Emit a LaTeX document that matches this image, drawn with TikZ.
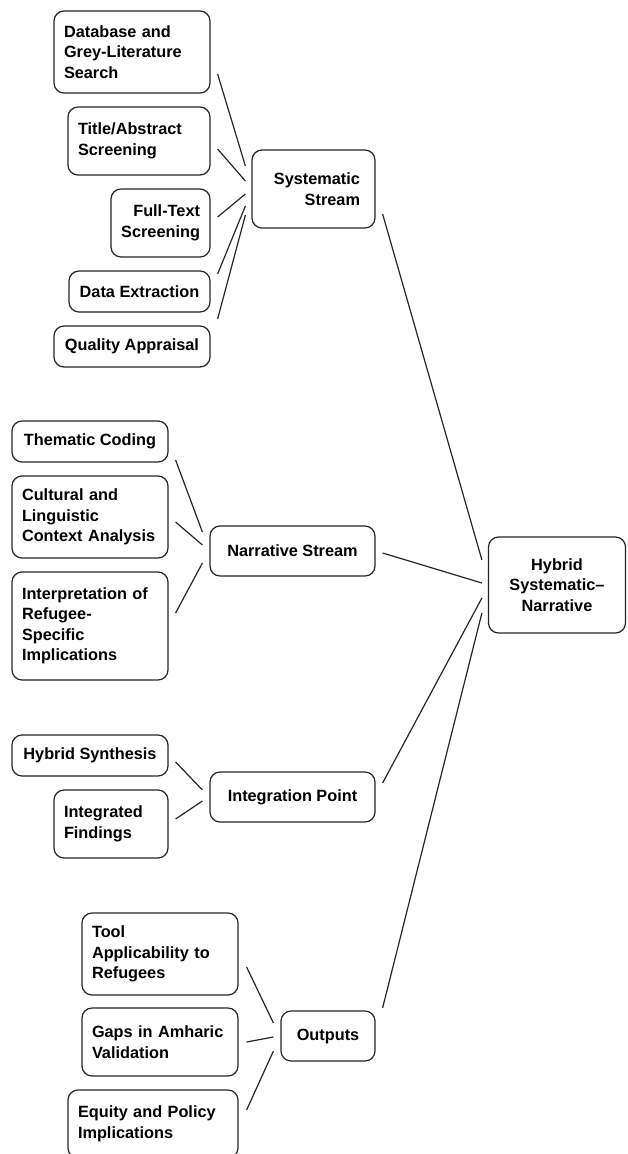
\documentclass[tikz,border=0pt]{standalone}
\usepackage{fontspec}
\setmainfont{Liberation Sans}
\begin{document}
\begin{tikzpicture}[x=1pt,y=-1pt,
  every node/.style={font=\fontsize{16.3}{20.5}\selectfont\bfseries},
  box/.style={draw=black!85, line width=1.2pt, rounded corners=10pt, inner xsep=10pt, inner ysep=0pt},
  lbox/.style={box, align=left},
  rbox/.style={box, align=right},
  cbox/.style={box, align=center},
  link/.style={draw=black!85, line width=1.2pt}]
\useasboundingbox[fill=white] (0,0) rectangle (627,1154);
% Systematic branch
\node[lbox, minimum width=156pt, minimum height=82pt, text width=136pt] (db) at (132,52) {Database and\\Grey-Literature\\Search};
\node[lbox, minimum width=142pt, minimum height=68pt, text width=122pt] (ta) at (139,141) {Title/Abstract\\Screening};
\node[rbox, minimum width=99pt, minimum height=68pt, text width=79pt] (ft) at (160.5,223) {Full-Text\\Screening};
\node[cbox, minimum width=141pt, minimum height=41pt] (de) at (139.5,291.5) {Data Extraction};
\node[cbox, minimum width=156pt, minimum height=41pt] (qa) at (132,346.5) {Quality Appraisal};
\node[rbox, inner xsep=15pt, minimum width=123pt, minimum height=78pt, text width=93pt] (sys) at (313.5,189) {Systematic\\Stream};
% Narrative branch
\node[cbox, minimum width=156pt, minimum height=41pt] (tc) at (90,441.5) {Thematic Coding};
\node[lbox, minimum width=156pt, minimum height=82pt, text width=136pt] (cl) at (90,517) {Cultural and\\Linguistic\\Context Analysis};
\node[lbox, minimum width=156pt, minimum height=108pt, text width=136pt] (ir) at (90,626) {Interpretation of\\Refugee-\\Specific\\Implications};
\node[cbox, minimum width=165pt, minimum height=50pt] (ns) at (292.5,551) {Narrative Stream};
% Integration branch
\node[cbox, minimum width=156pt, minimum height=41pt] (hs) at (90,755.5) {Hybrid Synthesis};
\node[lbox, minimum width=114pt, minimum height=68pt, text width=94pt] (inf) at (111,824) {Integrated\\Findings};
\node[cbox, minimum width=165pt, minimum height=50pt] (ip) at (292.5,797) {Integration Point};
% Outputs branch
\node[lbox, minimum width=156pt, minimum height=82pt, text width=136pt] (tool) at (160,954) {Tool\\Applicability to\\Refugees};
\node[lbox, minimum width=156pt, minimum height=68pt, text width=136pt] (gaps) at (160,1042) {Gaps in Amharic\\Validation};
\node[lbox, minimum width=170pt, minimum height=68pt, text width=150pt] (eq) at (153,1124) {Equity and Policy\\Implications};
\node[cbox, minimum width=94pt, minimum height=50pt] (out) at (328,1036) {Outputs};
% Root
\node[cbox, minimum width=137pt, minimum height=96pt] (hy) at (557,585) {Hybrid\\Systematic–\\Narrative};
% Connectors
\draw[link] ([shift={(7,22)}]db.east) -- ([shift={(-6,-23)}]sys.west);
\draw[link] ([shift={(7,8)}]ta.east) -- ([shift={(-6,-8)}]sys.west);
\draw[link] ([shift={(7,-6)}]ft.east) -- ([shift={(-6,5)}]sys.west);
\draw[link] ([shift={(7,-17.5)}]de.east) -- ([shift={(-6,17)}]sys.west);
\draw[link] ([shift={(7,-27.5)}]qa.east) -- ([shift={(-6,26)}]sys.west);
\draw[link] ([shift={(7,25)}]sys.east) -- ([shift={(-6,-25)}]hy.west);
\draw[link] ([shift={(7,18.5)}]tc.east) -- ([shift={(-7,-19)}]ns.west);
\draw[link] ([shift={(7,5)}]cl.east) -- ([shift={(-7,-6)}]ns.west);
\draw[link] ([shift={(7,-13)}]ir.east) -- ([shift={(-7,12)}]ns.west);
\draw[link] ([shift={(7,2)}]ns.east) -- ([shift={(-6,-2)}]hy.west);
\draw[link] ([shift={(7,6.5)}]hs.east) -- ([shift={(-7,-7)}]ip.west);
\draw[link] ([shift={(7,-5)}]inf.east) -- ([shift={(-7,4)}]ip.west);
\draw[link] ([shift={(7,-14)}]ip.east) -- ([shift={(-6,13)}]hy.west);
\draw[link] ([shift={(8,13)}]tool.east) -- ([shift={(-7,-13)}]out.west);
\draw[link] ([shift={(8,0)}]gaps.east) -- ([shift={(-7,1)}]out.west);
\draw[link] ([shift={(8,-14)}]eq.east) -- ([shift={(-7,15)}]out.west);
\draw[link] ([shift={(7,-28)}]out.east) -- ([shift={(-6,28)}]hy.west);
\end{tikzpicture}
\end{document}
